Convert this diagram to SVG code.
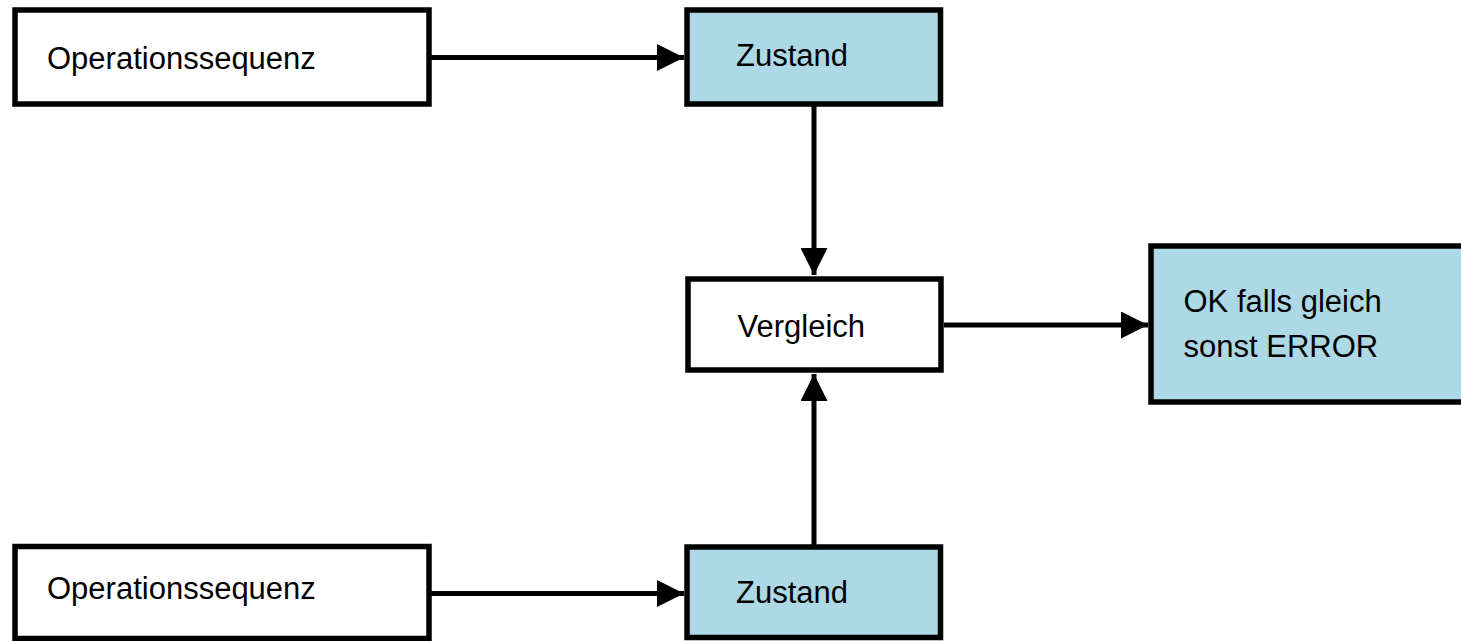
<svg xmlns="http://www.w3.org/2000/svg" width="1461" height="641" viewBox="0 0 1461 641">
  <style>
    .box { stroke: #000; stroke-width: 5.5; }
    .plain { fill: #fff; }
    .state { fill: #ADD8E6; }
    .lbl { font-family: "Liberation Sans", Arial, sans-serif; font-size: 31px; fill: #000; }
    .conn { stroke: #000; stroke-width: 5; fill: none; marker-end: url(#arrow); }
  </style>
  <defs>
    <marker id="arrow" markerUnits="userSpaceOnUse" markerWidth="28" markerHeight="27" refX="27" refY="13.5" orient="auto">
      <path d="M0,0 L27,13.5 L0,27 z" fill="#000"/>
    </marker>
  </defs>
  <rect width="1461" height="641" fill="#fff"/>
  <g id="connectors">
    <line class="conn" x1="431" y1="57.5" x2="684" y2="57.5"/>
    <line class="conn" x1="814" y1="104" x2="814" y2="275"/>
    <line class="conn" x1="944" y1="325" x2="1148" y2="325"/>
    <line class="conn" x1="814" y1="546" x2="814" y2="374"/>
    <line class="conn" x1="431" y1="593.5" x2="684" y2="593.5"/>
  </g>
  <g id="op1">
    <rect class="box plain" x="15" y="10" width="414" height="94"/>
    <text class="lbl" x="47" y="69">Operationssequenz</text>
  </g>
  <g id="zustand1">
    <rect class="box state" x="687" y="10" width="253.5" height="94"/>
    <text class="lbl" x="736" y="66">Zustand</text>
  </g>
  <g id="vergleich">
    <rect class="box plain" x="688" y="279" width="253" height="91"/>
    <text class="lbl" x="737.5" y="336.5">Vergleich</text>
  </g>
  <g id="result">
    <rect class="box state" x="1151" y="246" width="320" height="156"/>
    <text class="lbl" x="1183.5" y="312">OK falls gleich</text>
    <text class="lbl" x="1183.5" y="357">sonst ERROR</text>
  </g>
  <g id="op2">
    <rect class="box plain" x="15" y="546.5" width="414" height="92"/>
    <text class="lbl" x="47" y="599">Operationssequenz</text>
  </g>
  <g id="zustand2">
    <rect class="box state" x="687" y="547" width="253.5" height="90.5"/>
    <text class="lbl" x="736" y="602.5">Zustand</text>
  </g>
</svg>
